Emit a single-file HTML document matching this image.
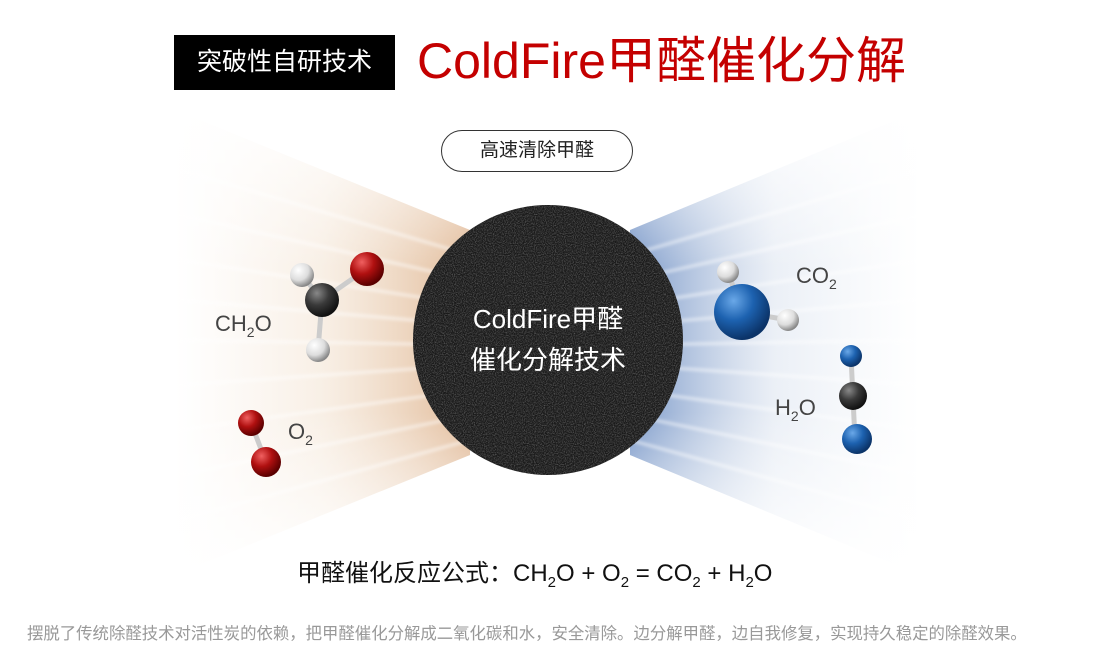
<!DOCTYPE html>
<html><head><meta charset="utf-8"><style>
html,body{margin:0;padding:0;background:#fff;}
body{width:1094px;height:660px;position:relative;overflow:hidden;font-family:"Liberation Sans","Noto Sans CJK SC",sans-serif;}
.abs{position:absolute;}
</style></head><body>
<svg class="abs" style="left:0;top:0" width="1094" height="660">
<defs>
<linearGradient id="lo" x1="0" x2="1" y1="0" y2="0">
<stop offset="0" stop-color="#f3e3d2" stop-opacity="0"/>
<stop offset="0.5" stop-color="#f0dcc6" stop-opacity="0.45"/>
<stop offset="1" stop-color="#dcae86" stop-opacity="0.85"/>
</linearGradient>
<linearGradient id="lb" x1="1" x2="0" y1="0" y2="0">
<stop offset="0" stop-color="#dde5f0" stop-opacity="0"/>
<stop offset="0.5" stop-color="#d3ddec" stop-opacity="0.45"/>
<stop offset="1" stop-color="#6a8cc2" stop-opacity="0.9"/>
</linearGradient>
<linearGradient id="vf" x1="0" x2="0" y1="0" y2="1">
<stop offset="0" stop-color="#fff" stop-opacity="1"/>
<stop offset="0.35" stop-color="#fff" stop-opacity="0"/>
<stop offset="0.65" stop-color="#fff" stop-opacity="0"/>
<stop offset="1" stop-color="#fff" stop-opacity="1"/>
</linearGradient>
<filter id="tex"><feTurbulence type="fractalNoise" baseFrequency="0.9" numOctaves="2" seed="3"/><feColorMatrix values="0 0 0 0 0.55  0 0 0 0 0.55  0 0 0 0 0.55  0 0 0 1.4 -0.55"/></filter>
<filter id="bl2"><feGaussianBlur stdDeviation="1.5"/></filter>
<clipPath id="cc"><circle cx="548" cy="340" r="135"/></clipPath>
<radialGradient id="red" cx="0.35" cy="0.3" r="0.7"><stop offset="0" stop-color="#f06060"/><stop offset="0.5" stop-color="#b01010"/><stop offset="1" stop-color="#5a0000"/></radialGradient>
<radialGradient id="wh" cx="0.35" cy="0.3" r="0.7"><stop offset="0" stop-color="#fff"/><stop offset="0.6" stop-color="#ddd"/><stop offset="1" stop-color="#888"/></radialGradient>
<radialGradient id="bk" cx="0.35" cy="0.3" r="0.7"><stop offset="0" stop-color="#888"/><stop offset="0.5" stop-color="#3a3a3a"/><stop offset="1" stop-color="#111"/></radialGradient>
<radialGradient id="bl" cx="0.35" cy="0.3" r="0.7"><stop offset="0" stop-color="#6aa8e8"/><stop offset="0.5" stop-color="#1d62b0"/><stop offset="1" stop-color="#0b3368"/></radialGradient>
</defs>
<polygon points="175,110 470,230 470,455 175,575" fill="url(#lo)"/>
<polygon points="920,110 630,230 630,455 920,575" fill="url(#lb)"/>
<g stroke="#fff" stroke-width="3" opacity="0.55" filter="url(#bl2)">
<line x1="180" y1="170" x2="470" y2="255"/><line x1="180" y1="215" x2="470" y2="280"/><line x1="180" y1="260" x2="470" y2="305"/><line x1="180" y1="300" x2="470" y2="325"/><line x1="180" y1="340" x2="470" y2="345"/><line x1="180" y1="385" x2="470" y2="365"/><line x1="180" y1="430" x2="470" y2="390"/><line x1="180" y1="475" x2="470" y2="415"/><line x1="180" y1="520" x2="470" y2="440"/>
<line x1="920" y1="170" x2="630" y2="255"/><line x1="920" y1="215" x2="630" y2="280"/><line x1="920" y1="260" x2="630" y2="305"/><line x1="920" y1="300" x2="630" y2="325"/><line x1="920" y1="340" x2="630" y2="345"/><line x1="920" y1="385" x2="630" y2="365"/><line x1="920" y1="430" x2="630" y2="390"/><line x1="920" y1="475" x2="630" y2="415"/><line x1="920" y1="520" x2="630" y2="440"/>
</g>
<rect x="170" y="100" width="760" height="480" fill="url(#vf)"/>
<circle cx="548" cy="340" r="135" fill="#1a1a1a"/>
<rect x="410" y="200" width="280" height="280" filter="url(#tex)" clip-path="url(#cc)" opacity="0.6"/>
<!-- CH2O -->
<line x1="322" y1="300" x2="365" y2="270" stroke="#ccc" stroke-width="5"/>
<line x1="322" y1="300" x2="302" y2="275" stroke="#ccc" stroke-width="5"/>
<line x1="322" y1="300" x2="318" y2="350" stroke="#ccc" stroke-width="5"/>
<circle cx="302" cy="275" r="12" fill="url(#wh)"/>
<circle cx="367" cy="269" r="17" fill="url(#red)"/>
<circle cx="322" cy="300" r="17" fill="url(#bk)"/>
<circle cx="318" cy="350" r="12" fill="url(#wh)"/>
<!-- O2 -->
<line x1="251" y1="423" x2="266" y2="462" stroke="#ccc" stroke-width="5"/>
<circle cx="251" cy="423" r="13" fill="url(#red)"/>
<circle cx="266" cy="462" r="15" fill="url(#red)"/>
<!-- right top -->
<line x1="742" y1="312" x2="728" y2="272" stroke="#ccc" stroke-width="5"/>
<line x1="742" y1="312" x2="788" y2="320" stroke="#ccc" stroke-width="5"/>
<circle cx="728" cy="272" r="11" fill="url(#wh)"/>
<circle cx="742" cy="312" r="28" fill="url(#bl)"/>
<circle cx="788" cy="320" r="11" fill="url(#wh)"/>
<!-- right bottom -->
<line x1="851" y1="356" x2="855" y2="440" stroke="#ccc" stroke-width="5"/>
<circle cx="851" cy="356" r="11" fill="url(#bl)"/>
<circle cx="853" cy="396" r="14" fill="url(#bk)"/>
<circle cx="857" cy="439" r="15" fill="url(#bl)"/>
<text x="548" y="328" text-anchor="middle" fill="#fff" font-size="26" font-family="Liberation Sans, Noto Sans CJK SC, sans-serif">ColdFire甲醛</text>
<text x="548" y="369" text-anchor="middle" fill="#fff" font-size="26" font-family="Liberation Sans, Noto Sans CJK SC, sans-serif">催化分解技术</text>
<g fill="#444" font-size="22" font-family="Liberation Sans, sans-serif">
<text x="215" y="331">CH<tspan font-size="14" dy="6">2</tspan><tspan dy="-6">O</tspan></text>
<text x="288" y="439">O<tspan font-size="14" dy="6">2</tspan></text>
<text x="796" y="283">CO<tspan font-size="14" dy="6">2</tspan></text>
<text x="775" y="415">H<tspan font-size="14" dy="6">2</tspan><tspan dy="-6">O</tspan></text>
</g>
</svg>
<div class="abs" style="left:174px;top:35px;width:221px;height:55px;background:#000;color:#fff;font-size:25px;line-height:55px;text-align:center;">突破性自研技术</div>
<div class="abs" style="left:417px;top:30px;color:#c40000;font-size:50px;line-height:62px;white-space:nowrap;">ColdFire甲醛催化分解</div>
<div class="abs" style="left:441px;top:130px;width:192px;height:42px;box-sizing:border-box;border:1.5px solid #333;border-radius:21px;font-size:19px;line-height:39px;text-align:center;color:#222;background:#fff;">高速清除甲醛</div>
<div class="abs" style="left:297px;top:553px;font-size:24px;color:#111;white-space:nowrap;">甲醛催化反应公式：CH<sub style="font-size:15px">2</sub>O + O<sub style="font-size:15px">2</sub> = CO<sub style="font-size:15px">2</sub> + H<sub style="font-size:15px">2</sub>O</div>
<div class="abs" style="left:27px;top:620px;font-size:16.4px;color:#999;white-space:nowrap;">摆脱了传统除醛技术对活性炭的依赖，把甲醛催化分解成二氧化碳和水，安全清除。边分解甲醛，边自我修复，实现持久稳定的除醛效果。</div>
</body></html>
